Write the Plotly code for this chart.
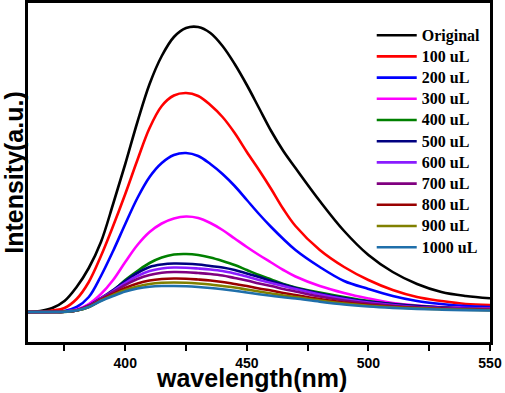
import plotly.graph_objects as go

wavelength = [360, 365, 370, 375, 380, 385, 390, 395, 400, 405, 410, 415, 420, 425, 430,
              435, 440, 445, 450, 455, 460, 465, 470, 480, 490, 500, 510, 520, 530, 540, 550]

original = [0, 1, 4, 11, 25, 44, 70, 108, 148, 190, 228, 256, 275, 284, 285,
            279, 266, 248, 227, 204, 181, 161, 144, 111, 81, 57, 40, 28, 20, 16, 13.7]
ul_100 = [0, 0.3, 1.5, 4, 13, 30, 56, 86, 118, 152, 184, 206, 216.5, 219, 216,
          207, 195, 179, 160, 142, 123, 103, 86, 62, 45, 32, 22, 15, 11, 8, 7]
ul_200 = [0, 0, 0.3, 1, 5, 15, 36, 61, 88, 114, 135, 149, 157, 159, 156,
          148, 138, 126, 112, 98, 85, 73, 62, 45, 31, 23, 16, 11, 8, 6, 5]
ul_300 = [0, 0, 0, 0.5, 2.5, 8, 18, 32, 50, 67, 80, 88.5, 93.5, 95.5, 94,
          89, 82, 73.5, 65, 57, 49.5, 42, 35.5, 26, 19, 13.5, 9, 6.5, 5, 4, 3.7]
ul_400 = [0, 0, 0, 0, 1.5, 5, 12, 21, 32, 41, 49, 54.5, 57.5, 58, 57,
          54.5, 51, 47, 42, 37, 32.5, 28, 24.5, 19.5, 15, 11, 8, 6, 4.5, 3.5, 3]
ul_500 = [0, 0, 0, 0.3, 1.8, 6.5, 14, 22, 31, 39, 45, 47.5, 48.5, 48.3, 47.5,
          46, 44.5, 42, 38.5, 35, 31, 27.5, 24, 18.5, 14, 10.5, 8, 6, 4.5, 3.5, 3]
ul_600 = [0, 0, 0, 0.3, 1.7, 6, 13.5, 21, 29, 36, 41, 43.5, 44.5, 44.3, 43.5,
          42.5, 41, 38.5, 35.5, 32, 29, 26, 23, 17.5, 13, 9.5, 7, 5, 4, 3.2, 2.6]
ul_700 = [0, 0, 0, 0.3, 1.6, 6, 13, 20, 27, 33, 37, 39.3, 40, 39.8, 39,
          38, 36.5, 34, 31.5, 28.5, 26, 23, 20.5, 15.5, 11.5, 8.5, 6.3, 4.7, 3.7, 3, 2.4]
ul_800 = [0, 0, 0, 0.3, 1.5, 5.5, 12, 18, 24, 28.5, 31.5, 33, 33.5, 33.3, 32.5,
          31.5, 30, 28, 26, 23.5, 21.5, 19, 17, 13, 9.5, 7, 5.2, 4, 3.1, 2.5, 2]
ul_900 = [0, 0, 0, 0.3, 1.5, 5, 11.5, 17, 22, 25.5, 28, 29.2, 29.5, 29.2, 28.5,
          27.5, 26, 24.5, 22.5, 20.5, 18.5, 16.5, 15, 11.5, 8.5, 6.3, 4.7, 3.6, 2.8, 2.2, 1.8]
ul_1000 = [0, 0, 0, 0.3, 1.5, 5, 11, 16, 20.5, 23.5, 25.3, 26, 26, 25.7, 25,
           24, 22.7, 21.2, 19.5, 17.8, 16.2, 14.8, 13.5, 10.3, 7.5, 5.5, 4.1, 3.1, 2.4, 1.9, 1.5]

series_names = ["Original", "100 uL", "200 uL", "300 uL", "400 uL", "500 uL",
                "600 uL", "700 uL", "800 uL", "900 uL", "1000 uL"]
series_values = [original, ul_100, ul_200, ul_300, ul_400, ul_500,
                 ul_600, ul_700, ul_800, ul_900, ul_1000]
series_colors = ["#000000", "#FF0000", "#0000FF", "#FF00FF", "#008000", "#000080",
                 "#8A1CFF", "#800080", "#990000", "#808000", "#1F6FAA"]

x_ticks = [400, 450, 500, 550]
x_title = "wavelength(nm)"
y_title = "Intensity(a.u.)"

fig = go.Figure()
for name, vals, col, rank in zip(series_names, series_values, series_colors, range(11)):
    fig.add_trace(go.Scatter(
        x=wavelength, y=vals, mode="lines",
        name='<span style="font-size:16px">' + name + "</span>",
        line=dict(color=col, width=2.6, shape="spline", smoothing=1.0),
        legendrank=rank + 1,
    ))

fig.update_layout(
    width=505, height=393,
    margin=dict(l=28, r=15, t=3, b=51),
    paper_bgcolor="white", plot_bgcolor="white",
    showlegend=True,
    legend=dict(
        x=0.744, y=0.951, xanchor="left", yanchor="top",
        bgcolor="rgba(0,0,0,0)", borderwidth=0,
        font=dict(family="Liberation Serif", size=14, color="black", weight="bold"),
        itemwidth=40, tracegroupgap=0,
    ),
    annotations=[dict(
        text=x_title, xref="paper", yref="paper", x=0.484, y=-0.107,
        xanchor="center", yanchor="middle", showarrow=False,
        font=dict(family="Liberation Sans", size=25, color="black", weight="bold"),
    )],
)
fig.update_xaxes(
    range=[360, 550], tickvals=x_ticks,
    showline=True, linecolor="black", linewidth=2.5, mirror=True,
    ticks="outside", ticklen=6, tickwidth=2, tickcolor="black",
    minor=dict(dtick=25, tick0=375, ticks="outside", ticklen=6, tickwidth=2, tickcolor="black"),
    showgrid=False, zeroline=False,
    tickfont=dict(family="Liberation Sans", size=14, color="black", weight="bold"),
    automargin=False,
)
fig.update_yaxes(
    range=[-30, 309],
    showline=True, linecolor="black", linewidth=2.5, mirror=True,
    ticks="", showticklabels=False, showgrid=False, zeroline=False,
    title=dict(text=y_title, standoff=0,
               font=dict(family="Liberation Sans", size=25, color="black", weight="bold")),
    automargin=False,
)

fig.write_html("out.html", config={"displayModeBar": False},
               post_script="document.body.style.margin='0';document.body.style.overflow='hidden';")
